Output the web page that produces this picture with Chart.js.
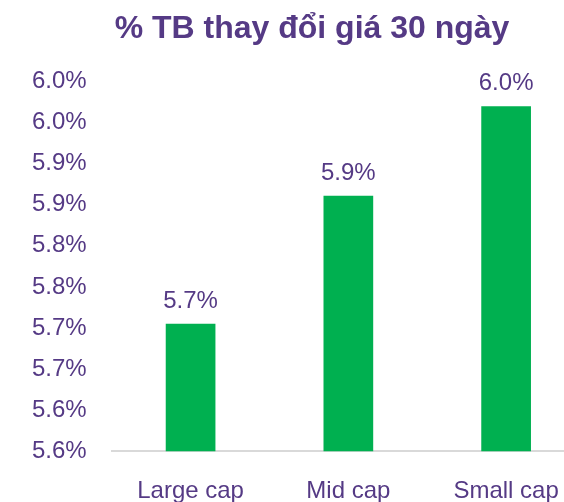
<!DOCTYPE html>
<html>
<head>
<meta charset="utf-8">
<script src="https://cdn.jsdelivr.net/npm/chart.js@4"></script>
<style>
    html, body { margin: 0; padding: 0; background: #ffffff; overflow: hidden; }
</style>
</head>
<body>
<canvas id="grafico" width="620" height="532"></canvas>
<script>
var categorias = ['Large cap', 'Mid cap', 'Small cap'];
var valores = [5.705, 5.861, 5.970];
// nhãn trục tung (Excel làm tròn 5.55 -> 5.6, 5.65 -> 5.7 ...)
var nhanTrucY = ['5.6%', '5.6%', '5.7%', '5.7%', '5.8%', '5.8%', '5.9%', '5.9%', '6.0%', '6.0%'];

var tim = '#553A85';
var xanh = '#00B050';
var fonte = '"Liberation Sans", Arial, sans-serif';

// ve nhan gia tri tren dau cot
const nhanCot = {
    id: 'nhanCot',
    afterDatasetsDraw(chart) {
        const ctx = chart.ctx;
        const meta = chart.getDatasetMeta(0);
        ctx.save();
        ctx.fillStyle = tim;
        ctx.font = '24px ' + fonte;
        ctx.textAlign = 'center';
        ctx.textBaseline = 'alphabetic';
        meta.data.forEach((bar, i) => {
            ctx.fillText(valores[i].toFixed(1) + '%', bar.x, bar.y - 16);
        });
        ctx.restore();
    }
};

new Chart(document.getElementById('grafico'), {
    type: 'bar',
    data: {
        labels: categorias,
        datasets: [
            {
                data: valores,
                backgroundColor: xanh,
                borderWidth: 0,
                categoryPercentage: 0.35,
                barPercentage: 0.9
            }
        ]
    },
    options: {
        responsive: false,
        animation: false,
        layout: {
            padding: { left: 7, right: 3, top: 0, bottom: 0 }
        },
        plugins: {
            legend: { display: false },
            tooltip: { enabled: false },
            title: {
                display: true,
                text: '% TB thay đổi giá 30 ngày',
                color: tim,
                font: { family: fonte, size: 32, weight: 'bold' },
                padding: { top: 9.5, bottom: 33.6 }
            }
        },
        scales: {
            y: {
                min: 5.55,
                max: 6.0,
                ticks: {
                    stepSize: 0.05,
                    color: tim,
                    padding: 25,
                    font: { family: fonte, size: 24 },
                    callback: function (v, i) { return nhanTrucY[i]; }
                },
                grid: { display: false, drawTicks: false },
                border: { display: false }
            },
            // truc phu ben phai, chi de chua khoang trong
            y2: {
                position: 'right',
                ticks: { display: false },
                grid: { display: false, drawTicks: false },
                border: { display: false },
                afterFit: function (s) { s.width = 32; }
            },
            x: {
                ticks: {
                    color: tim,
                    padding: 26,
                    maxRotation: 0,
                    minRotation: 0,
                    autoSkip: false,
                    font: { family: fonte, size: 24 }
                },
                grid: { display: false, drawTicks: false },
                border: { display: true, color: '#D9D9D9', width: 2 }
            }
        }
    },
    plugins: [nhanCot]
});
</script>
</body>
</html>
